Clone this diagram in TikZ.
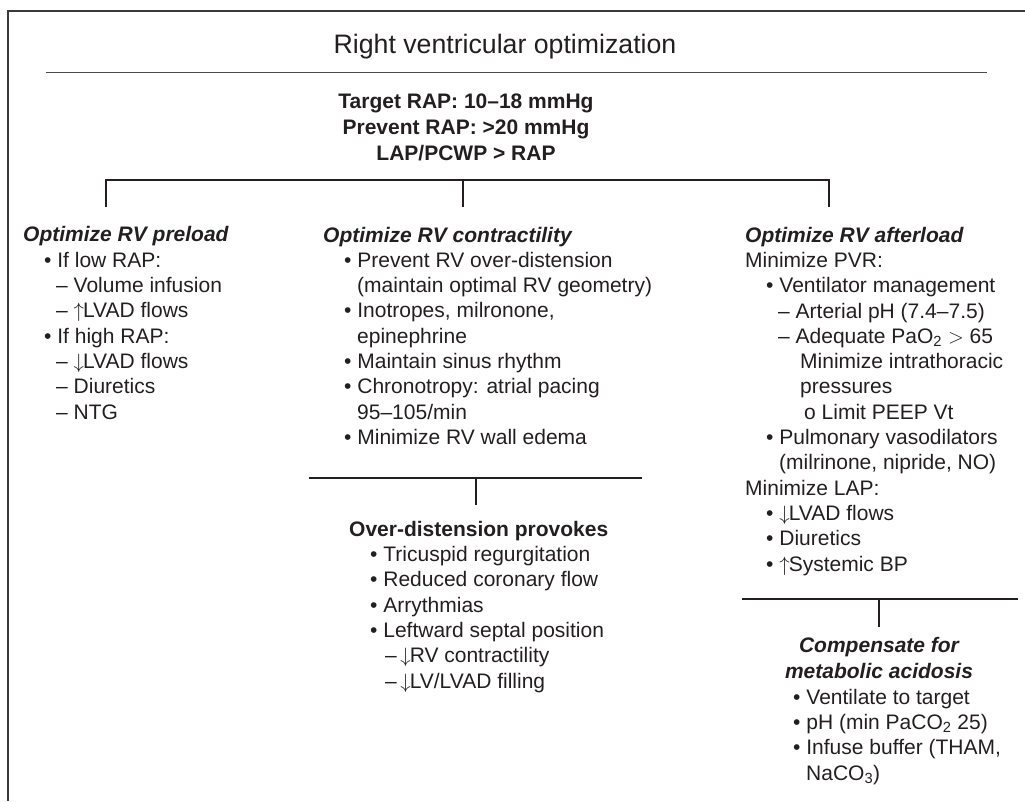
\documentclass[tikz,border=0pt]{standalone}
\usepackage{fontspec}
\setmainfont{Liberation Sans}
\usepackage{tikz}
\definecolor{rvtext}{HTML}{231F20}
\definecolor{rvframe}{HTML}{3A3A3A}
\definecolor{rvrule}{HTML}{4A4A4A}

% list helpers
\newcommand{\bitem}{\hspace*{21pt}\textbullet\ }
\newcommand{\ditem}{\hspace*{33pt}\textendash\ }
\newcommand{\bcont}{\hspace*{34pt}}
\newcommand{\dcont}{\hspace*{55pt}}
\newcommand{\upar}{$\uparrow$\kern-1pt}
\newcommand{\dnar}{$\downarrow$\kern-1pt}

\begin{document}
\begin{tikzpicture}[x=1pt, y=-1pt,
  txt/.style={anchor=base west, inner sep=0pt, align=left, text=rvtext,
    font=\fontsize{21}{25.3}\selectfont},
  ctr/.style={anchor=base, inner sep=0pt, align=center, text=rvtext,
    font=\fontsize{21}{26}\selectfont\bfseries},
  bar/.style={draw=rvtext, line width=1.3pt}]

\useasboundingbox (0,0) rectangle (1025,801);

% Frame and title
\draw[rvframe, line width=2pt] (8,801) -- (8,11) -- (1025,11);
\node[anchor=base, inner sep=0pt, text=rvtext, font=\fontsize{26.7}{30}\selectfont]
  (title) at (505,53) {Right ventricular optimization};
\draw[rvrule, line width=1.7pt] (46,72.5) -- (987,72.5);

% Targets (multi-line nodes sit on their last baseline)
\node[ctr] (target) at (466,160) {Target RAP: 10\textendash18 mmHg\\Prevent RAP: >20 mmHg\\LAP/PCWP > RAP};

% Main bracket
\coordinate (barL) at (106,180);
\coordinate (barM) at (463,180);
\coordinate (barR) at (829,180);
\coordinate (tickL) at (106,207);
\coordinate (tickM) at (463,207);
\coordinate (tickR) at (829,207);
\draw[bar] (tickL) -- (barL) -- (barR) -- (tickR);
\draw[bar] (barM) -- (tickM);

% Preload
\node[txt] (preload) at (23,419) {{\bfseries\itshape Optimize RV preload}\\
  \bitem If low RAP:\\
  \ditem Volume infusion\\
  \ditem \upar LVAD flows\\
  \bitem If high RAP:\\
  \ditem \dnar LVAD flows\\
  \ditem Diuretics\\
  \ditem NTG};

% Contractility
\node[txt] (contract) at (323,444.4) {{\bfseries\itshape Optimize RV contractility}\\
  \bitem Prevent RV over-distension\\
  \bcont (maintain optimal RV geometry)\\
  \bitem Inotropes, milronone,\\
  \bcont epinephrine\\
  \bitem Maintain sinus rhythm\\
  \bitem Chronotropy: atrial pacing\\
  \bcont 95\textendash105/min\\
  \bitem Minimize RV wall edema};

% Afterload
\node[txt] (afterload) at (745,571) {{\bfseries\itshape Optimize RV afterload}\\
  Minimize PVR:\\
  \bitem Ventilator management\\
  \ditem Arterial pH (7.4\textendash7.5)\\
  \ditem Adequate PaO\textsubscript{2} $>$ 65\\
  \dcont Minimize intrathoracic\\
  \dcont pressures\\
  \hspace*{59pt}o Limit PEEP Vt\\
  \bitem Pulmonary vasodilators\\
  \bcont (milrinone, nipride, NO)\\
  Minimize LAP:\\
  \bitem \dnar LVAD flows\\
  \bitem Diuretics\\
  \bitem \upar Systemic BP};

% Over-distension bracket
\coordinate (odL) at (309,478);
\coordinate (odM) at (476,478);
\coordinate (odR) at (642,478);
\coordinate (odT) at (476,505);
\draw[bar] (odL) -- (odR);
\draw[bar] (odM) -- (odT);

\node[txt] (overdist) at (349,688) {{\bfseries Over-distension provokes}\\
  \bitem Tricuspid regurgitation\\
  \bitem Reduced coronary flow\\
  \bitem Arrythmias\\
  \bitem Leftward septal position\\
  \hspace*{36pt}\textendash\,\dnar RV contractility\\
  \hspace*{36pt}\textendash\,\dnar LV/LVAD filling};

% Acidosis bracket
\coordinate (acL) at (742,599);
\coordinate (acM) at (879,599);
\coordinate (acR) at (1018,599);
\coordinate (acT) at (879,627);
\draw[bar] (acL) -- (acR);
\draw[bar] (acM) -- (acT);

\node[txt, anchor=base, align=center] (acidosis) at (879,678)
  {\bfseries\itshape Compensate for\\\bfseries\itshape metabolic acidosis};
\node[txt] (acidlist) at (772,780) {\bitem Ventilate to target\\
  \bitem pH (min PaCO\textsubscript{2} 25)\\
  \bitem Infuse buffer (THAM,\\
  \bcont NaCO\textsubscript{3})};

\end{tikzpicture}
\end{document}
